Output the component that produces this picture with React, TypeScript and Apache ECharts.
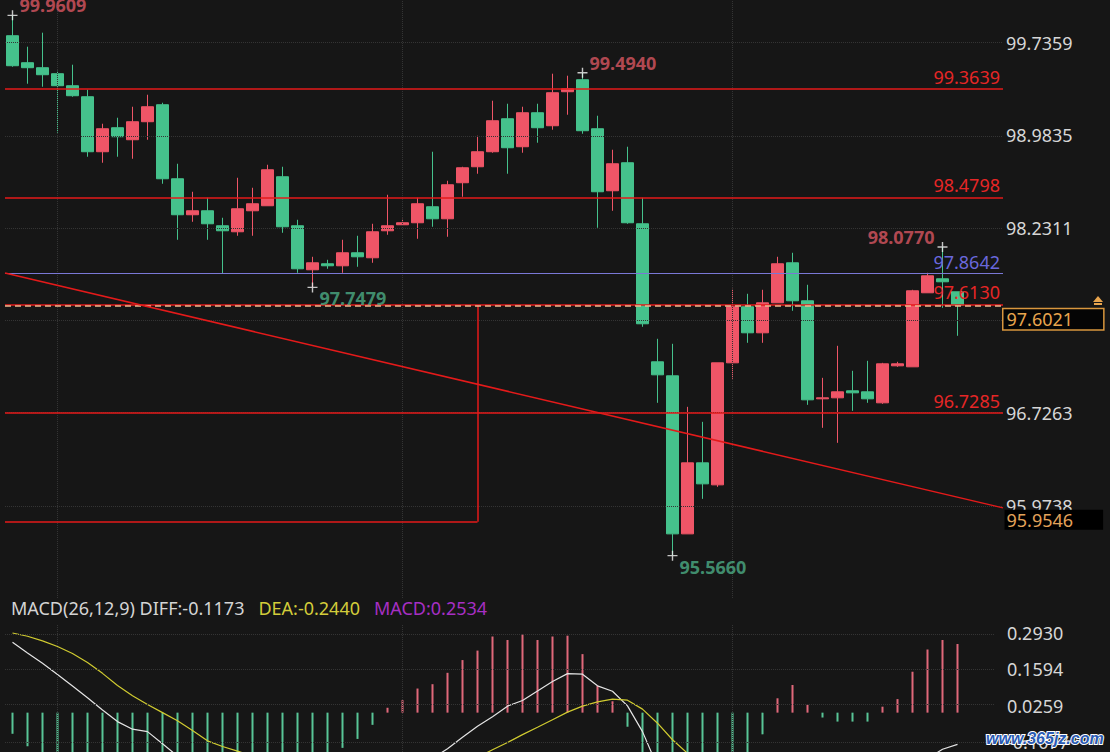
import React, { useEffect, useRef } from "react";
import * as echarts from "echarts";

// ---------- data ----------
// candle: [open, close, low, high]
const candles: number[][] = [
  [99.7951, 99.551, 99.5429, 99.9609],
  [99.5755, 99.5348, 99.4046, 99.7056],
  [99.5348, 99.4778, 99.3802, 99.8196],
  [99.486, 99.3883, 99.0059, 99.5104],
  [99.3883, 99.3069, 99.2988, 99.5592],
  [99.2988, 98.8513, 98.8106, 99.3558],
  [98.8513, 99.0384, 98.7618, 99.0791],
  [99.0466, 98.9733, 98.8106, 99.1279],
  [98.9489, 99.0954, 98.7943, 99.2174],
  [99.0954, 99.2174, 98.9489, 99.3151],
  [99.2337, 98.6316, 98.5909, 99.25],
  [98.6316, 98.3387, 98.1353, 98.7536],
  [98.3387, 98.3712, 98.2817, 98.5258],
  [98.3712, 98.2654, 98.1353, 98.477],
  [98.2492, 98.2085, 97.8642, 98.3143],
  [98.2003, 98.3875, 98.1678, 98.6397],
  [98.3712, 98.4282, 98.1678, 98.5584],
  [98.4119, 98.7048, 98.4119, 98.7455],
  [98.6479, 98.241, 98.1922, 98.7292],
  [98.2492, 97.8993, 97.8667, 98.298],
  [97.8912, 97.9481, 97.7479, 97.9969],
  [97.94, 97.9237, 97.8993, 97.9725],
  [97.9237, 98.0295, 97.8667, 98.1353],
  [98.0295, 97.9969, 97.9156, 98.1678],
  [97.9888, 98.2003, 97.9481, 98.2654],
  [98.2085, 98.2492, 98.1759, 98.5014],
  [98.2573, 98.2736, 98.2573, 98.3061],
  [98.2736, 98.4282, 98.1434, 98.477],
  [98.4038, 98.3061, 98.241, 98.8513],
  [98.3061, 98.5828, 98.1597, 98.6153],
  [98.5991, 98.7211, 98.4851, 98.7292],
  [98.7292, 98.8513, 98.6723, 98.9815],
  [98.8513, 99.1035, 98.8432, 99.2663],
  [99.1198, 98.8838, 98.6723, 99.2418],
  [98.892, 99.1686, 98.8432, 99.2174],
  [99.1686, 99.0466, 98.9245, 99.2418],
  [99.0628, 99.3314, 99.0303, 99.486],
  [99.3395, 99.3639, 99.1523, 99.4697],
  [99.4371, 99.0222, 98.9977, 99.494],
  [99.0384, 98.5258, 98.2329, 99.1442],
  [98.534, 98.7536, 98.3712, 98.8676],
  [98.7618, 98.2736, 98.2654, 98.892],
  [98.2654, 97.4518, 97.4273, 98.477],
  [97.1426, 97.0368, 96.809, 97.3297],
  [97.0287, 95.7431, 95.566, 97.289],
  [95.7431, 96.3208, 95.7431, 96.7764],
  [96.3208, 96.1499, 96.0279, 96.6544],
  [96.1418, 97.1344, 96.1255, 97.1344],
  [97.1344, 97.5901, 97.0043, 97.7366],
  [97.5901, 97.3785, 97.2972, 97.6959],
  [97.3785, 97.6226, 97.2972, 97.7284],
  [97.6226, 97.94, 97.6226, 97.9969],
  [97.9481, 97.6389, 97.5576, 98.0295],
  [97.6389, 96.8334, 96.7926, 97.7691],
  [96.8415, 96.8497, 96.6056, 97.0124],
  [96.8497, 96.8985, 96.4835, 97.2728],
  [96.9066, 96.8903, 96.7439, 97.0694],
  [96.8985, 96.8415, 96.809, 97.1507],
  [96.809, 97.1263, 96.8009, 97.1344],
  [97.11, 97.1263, 97.1019, 97.1426],
  [97.1019, 97.7203, 97.1019, 97.7284],
  [97.704, 97.8423, 97.704, 97.8667],
  [97.8179, 97.7935, 97.582, 98.077],
  [97.7122, 97.6021, 97.3541, 97.7122],
];

const slotCount = 66; // candle slots on the time axis (two empty at the right)
const categories = Array.from({ length: slotCount }, (_, i) => String(i));

// marked extremes: candle index, price, is high
const extremeIndex = [0, 38, 20, 44, 62];
const extremeValue = [99.9609, 99.494, 97.7479, 95.566, 98.077];
const extremeIsHigh = [true, true, false, false, true];

// drawn levels
const redLevels = [99.3639, 98.4798, 97.613, 96.7285];
const blueLevel = 97.8642;
const currentPrice = 97.6021;
const trendStart = 97.8642;
const trendEnd = 95.9546;
const boxTop = 97.6021;
const boxBottom = 95.8408;
const boxEndIndex = 31;
const timeGridIndex = [3, 26, 48];

// axis ticks
const priceTicks = [99.7359, 98.9835, 98.2311, 97.4787, 96.7263, 95.9738];
const macdTicks = [0.293, 0.1594, 0.0259, -0.1077];

// MACD(26,12,9)
const macdHist = [
  -0.078, -0.124, -0.165, -0.205, -0.24, -0.26, -0.27, -0.265, -0.245, -0.225,
  -0.23, -0.26, -0.29, -0.32, -0.34, -0.345, -0.33, -0.3, -0.265, -0.23,
  -0.195, -0.165, -0.13, -0.097, -0.045, 0.018, 0.046, 0.089, 0.105, 0.147,
  0.194, 0.229, 0.281, 0.268, 0.288, 0.268, 0.281, 0.284, 0.216, 0.099,
  0.042, -0.052, -0.2, -0.32, -0.42, -0.46, -0.42, -0.34, -0.26, -0.18,
  -0.08, 0.053, 0.102, 0.029, -0.018, -0.033, -0.033, -0.033, 0.022, 0.05,
  0.151, 0.233, 0.268, 0.2534,
];
const deaValues = [
  0.294, 0.282, 0.265, 0.244, 0.218, 0.185, 0.145, 0.1, 0.062, 0.03,
  0.0, -0.03, -0.066, -0.104, -0.125, -0.142, -0.16, -0.178, -0.195, -0.21,
  -0.222, -0.232, -0.24, -0.245, -0.248, -0.246, -0.241, -0.232, -0.222, -0.207,
  -0.188, -0.165, -0.137, -0.11, -0.081, -0.054, -0.026, 0.002, 0.024, 0.04,
  0.05, 0.046, 0.013, -0.039, -0.1, -0.15, -0.195, -0.232, -0.262, -0.285,
  -0.3, -0.3, -0.298, -0.3, -0.304, -0.308, -0.311, -0.314, -0.312, -0.306,
  -0.292, -0.275, -0.258, -0.244,
];
const difValues = [
  0.26, 0.22, 0.182, 0.141, 0.098, 0.055, 0.01, -0.033, -0.061, -0.07,
  -0.115, -0.16, -0.211, -0.264, -0.295, -0.315, -0.325, -0.328, -0.328, -0.325,
  -0.32, -0.315, -0.305, -0.294, -0.271, -0.237, -0.218, -0.187, -0.169, -0.133,
  -0.091, -0.05, -0.015, 0.024, 0.045, 0.08, 0.115, 0.144, 0.142, 0.099,
  0.079, 0.025, -0.07, -0.199, -0.31, -0.38, -0.405, -0.402, -0.392, -0.375,
  -0.34, -0.273, -0.247, -0.285, -0.313, -0.325, -0.328, -0.331, -0.301, -0.281,
  -0.216, -0.17, -0.135, -0.1173,
];

// ---------- layout / style ----------
const FONT = "'Noto Sans', 'Liberation Sans', Arial, sans-serif";
const P_MIN = 95.2214;
const P_MAX = 100.0856;
const M_MIN = -0.1452;
const M_MAX = 0.3234;
const X_MIN = -0.5;
const X_MAX = 66.0333;
const UP = "#ef5567";
const DOWN = "#45c28c";
const LINE_RED = "#e41a1a";
const GRID_DOT = { color: "#343434", type: "dotted" as const, width: 1 };
const fmt4 = (v: number) => v.toFixed(4);

function buildOption() {
  const last = candles.length - 1;
  const extremes = extremeIndex.map((idx, k) => {
    const high = extremeIsHigh[k];
    const leftSide = idx > 55;
    return {
      value: [idx, extremeValue[k]],
      label: {
        show: true,
        formatter: fmt4(extremeValue[k]),
        position: leftSide ? "left" : "right",
        offset: leftSide ? [2, -10] : [-3, high ? -10 : 11],
        color: high ? "#dc5662" : "#4dae86",
        fontSize: 18,
        fontWeight: "bold",
        fontFamily: FONT,
      },
    };
  });

  const redStyle = { color: LINE_RED, width: 1.5, type: "solid" };
  const levelLines: any[] = [];
  timeGridIndex.forEach((i) =>
    levelLines.push({ xAxis: i, lineStyle: GRID_DOT, label: { show: false } })
  );
  priceTicks.forEach((v) =>
    levelLines.push({ yAxis: v, lineStyle: GRID_DOT, label: { show: false } })
  );
  // rectangle (right and bottom edges; its top lies on the price line)
  levelLines.push([
    { coord: [X_MIN, boxBottom], lineStyle: redStyle, label: { show: false } },
    { coord: [boxEndIndex, boxBottom] },
  ]);
  levelLines.push([
    { coord: [boxEndIndex, boxTop], lineStyle: redStyle, label: { show: false } },
    { coord: [boxEndIndex, boxBottom] },
  ]);
  redLevels.forEach((v) =>
    levelLines.push({
      yAxis: v,
      lineStyle: redStyle,
      label: {
        show: true,
        position: "insideEndTop",
        distance: 3,
        formatter: fmt4(v),
        color: "#e62626",
        fontSize: 18,
        fontFamily: FONT,
      },
    })
  );
  levelLines.push({
    yAxis: blueLevel,
    lineStyle: { color: "#7a78d6", width: 1.2, type: "solid" },
    label: {
      show: true,
      position: "insideEndTop",
      distance: 3,
      formatter: fmt4(blueLevel),
      color: "#6a68dc",
      fontSize: 18,
      fontFamily: FONT,
    },
  });
  levelLines.push({
    yAxis: currentPrice,
    lineStyle: { color: "#f0b88e", width: 1.5, type: [6, 4] },
    label: { show: false },
  });
  levelLines.push([
    { coord: [X_MIN, trendStart], lineStyle: redStyle, label: { show: false } },
    { coord: [X_MAX, trendEnd] },
  ]);

  const macdGrid: any[] = macdTicks.map((v) => ({
    yAxis: v,
    lineStyle: GRID_DOT,
    label: { show: false },
  }));
  timeGridIndex.forEach((i) =>
    macdGrid.push({ xAxis: i, lineStyle: GRID_DOT, label: { show: false } })
  );

  return {
    animation: false,
    backgroundColor: "#161616",
    textStyle: { fontFamily: FONT },
    title: {
      left: 6,
      top: 594,
      text:
        "{a|MACD(26,12,9) DIFF:" +
        fmt4(difValues[last]) +
        "}{g|}{b|DEA:" +
        fmt4(deaValues[last]) +
        "}{g|}{c|MACD:" +
        fmt4(macdHist[last]) +
        "}",
      textStyle: {
        fontSize: 18,
        fontWeight: "normal",
        fontFamily: FONT,
        rich: {
          a: { color: "#d4d4d4", fontSize: 18, fontFamily: FONT },
          g: { width: 14 },
          b: { color: "#d3cc3a", fontSize: 18, fontFamily: FONT },
          c: { color: "#a62fc4", fontSize: 18, fontFamily: FONT },
        },
      },
    },
    grid: [
      { left: 5, top: 0, width: 990, height: 598, outerBoundsMode: "none" },
      { left: 5, top: 0, width: 998, height: 598, outerBoundsMode: "none" },
      { left: 5, top: 625, width: 990, height: 127, outerBoundsMode: "none" },
    ],
    xAxis: [
      { type: "category", gridIndex: 0, data: categories, show: false, boundaryGap: true },
      { type: "value", gridIndex: 1, min: X_MIN, max: X_MAX, show: false },
      { type: "category", gridIndex: 2, data: categories, show: false, boundaryGap: true },
    ],
    yAxis: [
      { type: "value", gridIndex: 0, min: P_MIN, max: P_MAX, show: false },
      {
        type: "value",
        gridIndex: 1,
        min: P_MIN,
        max: P_MAX,
        position: "right",
        axisLine: { show: false },
        axisTick: { show: false },
        splitLine: { show: false },
        axisLabel: {
          customValues: priceTicks,
          formatter: (v: number) => fmt4(v),
          color: "#d6d6d6",
          fontSize: 18,
          margin: 3,
          fontFamily: FONT,
        },
      },
      {
        type: "value",
        gridIndex: 2,
        min: M_MIN,
        max: M_MAX,
        position: "right",
        axisLine: { show: false },
        axisTick: { show: false },
        splitLine: { show: false },
        axisLabel: {
          customValues: macdTicks,
          formatter: (v: number) => fmt4(v),
          color: "#d6d6d6",
          fontSize: 18,
          margin: 12,
          fontFamily: FONT,
        },
      },
    ],
    series: [
      {
        type: "line",
        name: "drawings",
        xAxisIndex: 1,
        yAxisIndex: 1,
        data: [],
        z: 1,
        markLine: {
          silent: true,
          symbol: ["none", "none"],
          label: { show: false },
          data: levelLines,
        },
      },
      {
        type: "candlestick",
        xAxisIndex: 0,
        yAxisIndex: 0,
        data: candles,
        barWidth: 13,
        z: 3,
        itemStyle: {
          color: UP,
          color0: DOWN,
          borderColor: UP,
          borderColor0: DOWN,
          borderWidth: 1,
        },
      },
      {
        type: "scatter",
        xAxisIndex: 0,
        yAxisIndex: 0,
        z: 6,
        symbol: "path://M0,4.3H10V5.7H0Z M4.3,0H5.7V10H4.3Z",
        symbolSize: 10,
        itemStyle: { color: "#f2f2f2" },
        data: extremes,
      },
      {
        type: "line",
        name: "labels",
        xAxisIndex: 1,
        yAxisIndex: 1,
        data: [],
        z: 8,
        markPoint: {
          silent: true,
          symbol: "rect",
          symbolSize: 1,
          itemStyle: { color: "rgba(0,0,0,0)" },
          data: [
            {
              coord: [X_MAX, currentPrice],
              label: {
                show: true,
                position: "right",
                distance: 0,
                offset: [0, 14],
                formatter: fmt4(currentPrice),
                color: "#e9a54e",
                fontSize: 18,
                fontFamily: FONT,
                backgroundColor: "#050505",
                borderColor: "#d9973e",
                borderWidth: 1.5,
                padding: [1, 30, 1, 3],
              },
            },
            {
              coord: [X_MAX, trendEnd],
              label: {
                show: true,
                position: "right",
                distance: 0,
                offset: [1, 12],
                formatter: fmt4(trendEnd),
                color: "#e3a25a",
                fontSize: 18,
                fontFamily: FONT,
                backgroundColor: "#000000",
                padding: [1, 30, 1, 2],
              },
            },
          ],
        },
      },
      {
        type: "bar",
        name: "MACD",
        xAxisIndex: 2,
        yAxisIndex: 2,
        data: macdHist,
        barWidth: 2,
        z: 2,
        itemStyle: {
          color: (p: any) => (p.value >= 0 ? "#e0687a" : "#58c596"),
        },
        markLine: {
          silent: true,
          symbol: ["none", "none"],
          label: { show: false },
          data: macdGrid,
        },
      },
      {
        type: "line",
        name: "DIFF",
        xAxisIndex: 2,
        yAxisIndex: 2,
        data: difValues,
        showSymbol: false,
        symbol: "none",
        z: 3,
        lineStyle: { color: "#e4e4e4", width: 1.2 },
      },
      {
        type: "line",
        name: "DEA",
        xAxisIndex: 2,
        yAxisIndex: 2,
        data: deaValues,
        showSymbol: false,
        symbol: "none",
        z: 3,
        lineStyle: { color: "#d0cb30", width: 1.2 },
      },
    ],
    graphic: [
      {
        type: "polygon",
        z: 100,
        shape: { points: [[1093, 302], [1098, 296], [1103, 302]] },
        style: { fill: "#e9a54e" },
      },
      {
        type: "rect",
        z: 100,
        shape: { x: 1094, y: 303, width: 8, height: 2 },
        style: { fill: "#e9a54e" },
      },
      {
        type: "text",
        z: 100,
        left: 985,
        top: 729,
        style: {
          text: "www.365jz.com",
          fill: "#2a5bb5",
          stroke: "#ffffff",
          lineWidth: 2,
          font: "italic bold 16px 'Liberation Sans', Arial, sans-serif",
        },
      },
    ],
  };
}

export default function App() {
  const ref = useRef<HTMLDivElement>(null);
  useEffect(() => {
    if (!ref.current) return;
    const chart = echarts.init(ref.current, null, { renderer: "svg" });
    chart.setOption(buildOption() as any);
    return () => chart.dispose();
  }, []);
  return (
    <div
      ref={ref}
      style={{ position: "fixed", left: 0, top: 0, width: 1110, height: 752 }}
    />
  );
}
